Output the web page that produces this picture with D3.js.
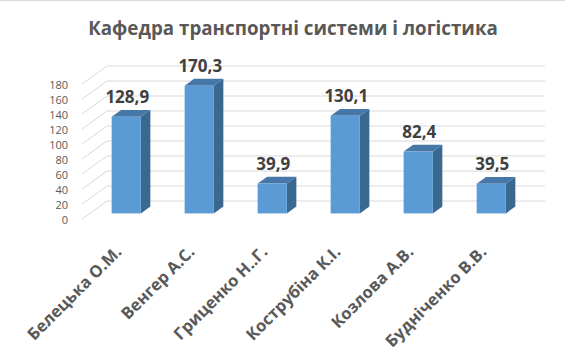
<!DOCTYPE html>
<html>
    <head>
        <meta charset="utf-8">
        <script src="https://cdn.jsdelivr.net/npm/d3@7"></script>
        <style>
            body { margin: 0; background: #fff; }
            text { font-family: "Open Sans", sans-serif; }
        </style>
        <script>
            var title = "Кафедра транспортні системи і логістика";
            var names = ["Белецька О.М.", "Венгер А.С.", "Гриценко Н..Г.", "Кострубіна К.І.", "Козлова А.В.", "Будніченко В.В."];
            var values = [128.9, 170.3, 39.9, 130.1, 82.4, 39.5];
            var yTicks = [0, 20, 40, 60, 80, 100, 120, 140, 160, 180];

            function makeSVG() {
                var svg = d3.select("#fig");

                // depth of the floor and of a bar
                var dx = 25, dy = -18;
                var f1 = 0.31, f2 = 0.69;

                var xSc = d3.scaleBand().domain(names).range([82, 520])
                            .paddingInner(0.6).paddingOuter(0.3);
                var ySc = d3.scaleLinear().domain([0, 180]).range([219, 84]);

                svg.append("line")
                   .attr("x1", 0).attr("x2", 565).attr("y1", 0.5).attr("y2", 0.5)
                   .attr("stroke", "#d9d9d9");

                // gridlines: back wall + left side diagonal
                var grid = svg.append("g").attr("stroke", "#d9d9d9").attr("fill", "none");
                grid.selectAll("path")
                    .data(yTicks)
                    .enter()
                    .append("path")
                    .attr("d", d => "M" + 82 + "," + ySc(d) + "L" + (82 + dx) + "," + (ySc(d) + dy)
                                  + "L" + (520 + dx) + "," + (ySc(d) + dy));

                // y axis labels
                var yAx = svg.append("g")
                             .attr("transform", "translate(72,1)")
                             .call(d3.axisLeft(ySc).tickValues(yTicks).tickSize(0).tickPadding(4));
                yAx.select(".domain").remove();
                yAx.selectAll("text")
                   .style("font-family", "Open Sans")
                   .style("font-size", "11px")
                   .attr("fill", "#595959");

                // bars
                var bars = svg.selectAll(".bar")
                              .data(values)
                              .enter()
                              .append("g")
                              .attr("transform", (d, i) => "translate(" + (xSc(names[i]) + dx * f1) + "," + (dy * f1) + ")");

                var w = xSc.bandwidth();
                var bx = dx * (f2 - f1), by = dy * (f2 - f1);

                bars.append("path")
                    .attr("fill", "#3a6891")
                    .attr("d", d => "M" + w + "," + ySc(0) + "L" + (w + bx) + "," + (ySc(0) + by)
                                  + "L" + (w + bx) + "," + (ySc(d) + by) + "L" + w + "," + ySc(d) + "Z");
                bars.append("path")
                    .attr("fill", "#4677a8")
                    .attr("d", d => "M0," + ySc(d) + "L" + bx + "," + (ySc(d) + by)
                                  + "L" + (w + bx) + "," + (ySc(d) + by) + "L" + w + "," + ySc(d) + "Z");
                bars.append("rect")
                    .attr("fill", "#5b9bd5")
                    .attr("x", 0)
                    .attr("y", d => ySc(d))
                    .attr("width", w)
                    .attr("height", d => ySc(0) - ySc(d));

                // data labels
                bars.append("text")
                    .attr("x", w / 2 + 1)
                    .attr("y", d => ySc(d) + by - 7)
                    .attr("text-anchor", "middle")
                    .style("font-size", "17px")
                    .style("font-weight", "bold")
                    .attr("fill", "#404040")
                    .text(d => String(d).replace(".", ","));

                // category labels
                var xAx = svg.append("g")
                             .attr("transform", "translate(0,219)")
                             .call(d3.axisBottom(xSc).tickSize(0));
                xAx.select(".domain").remove();
                xAx.selectAll("text")
                   .attr("text-anchor", "end")
                   .attr("y", 0).attr("dy", 0)
                   .attr("transform", "translate(4,34) rotate(-45)")
                   .style("font-family", "Open Sans")
                   .style("font-size", "16.5px")
                   .style("font-weight", "bold")
                   .attr("fill", "#595959");

                // title, fitted to width of the original
                var t = svg.append("text")
                           .attr("x", 293)
                           .attr("y", 35)
                           .attr("text-anchor", "middle")
                           .style("font-size", "20px")
                           .style("font-weight", "bold")
                           .attr("fill", "#595959")
                           .text(title);
                var len = t.node().getComputedTextLength();
                t.style("font-size", (20 * 410 / len) + "px");
            }
        </script>
    </head>
    <body onload="makeSVG()">
        <svg id="fig" width="565" height="352"></svg>
    </body>
</html>
